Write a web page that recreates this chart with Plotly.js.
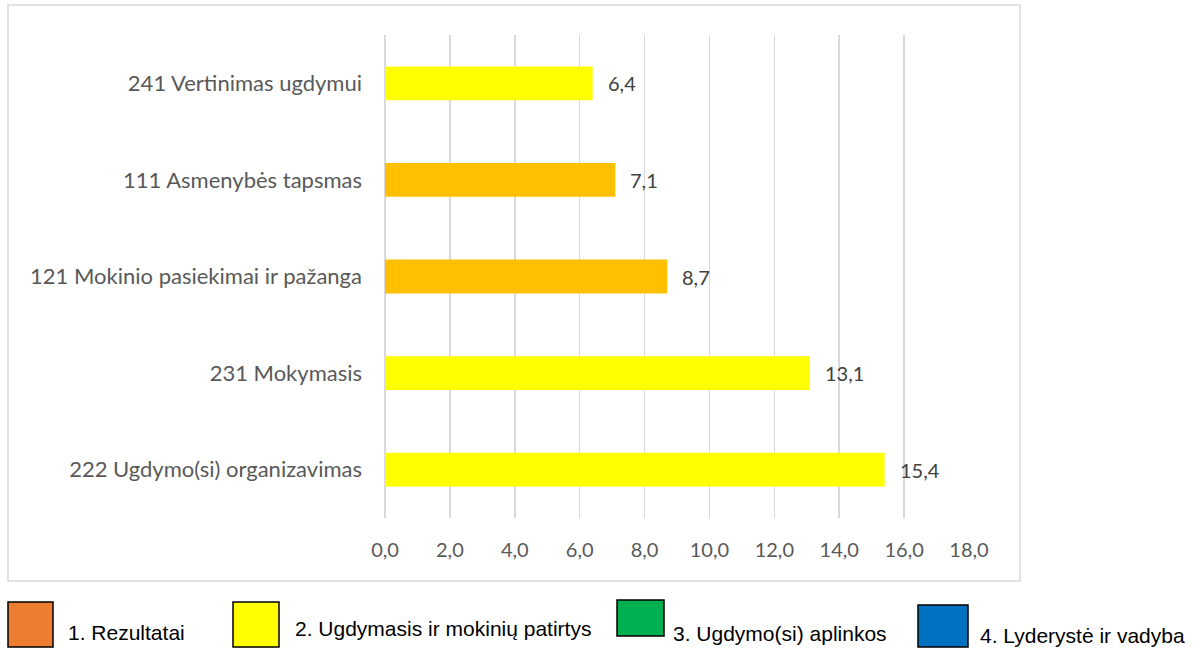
<!DOCTYPE html>
<html>
<head>
<meta charset="utf-8">
<script src="https://cdn.plot.ly/plotly-3.0.1.min.js"></script>
<style>html,body{margin:0;padding:0;background:#fff;}#chart{width:1203px;height:648px;}</style>
</head>
<body>
<div id="chart"></div>
<script>
// Data (bottom to top)
const categories = [
  "222 Ugdymo(si) organizavimas",
  "231 Mokymasis",
  "121 Mokinio pasiekimai ir pažanga",
  "111 Asmenybės tapsmas",
  "241 Vertinimas ugdymui"
];
const values = [15.4, 13.1, 8.7, 7.1, 6.4];
const barColors = ["#FFFF00", "#FFFF00", "#FFC000", "#FFC000", "#FFFF00"];
const xTickValues = [0, 2, 4, 6, 8, 10, 12, 14, 16, 18];
const legendLabels = ["1. Rezultatai", "2. Ugdymasis ir mokinių patirtys", "3. Ugdymo(si) aplinkos", "4. Lyderystė ir vadyba"];
const legendColors = ["#ED7D31", "#FFFF00", "#00B050", "#0070C0"];

// Layout geometry (pixels)
const W = 1203, H = 648;
const plotL = 385, plotR = 969, plotT = 35, plotB = 518;
const px2x = p => (p - plotL) / (plotR - plotL);
const py2y = p => (plotB - p) / (plotB - plotT);

const legendBoxes = [
  {x0: 8, x1: 53, y0: 602, y1: 647, tx: 66, ty: 632},
  {x0: 233, x1: 279, y0: 602, y1: 647, tx: 293, ty: 628},
  {x0: 617, x1: 664, y0: 600, y1: 636, tx: 671, ty: 633},
  {x0: 918, x1: 968, y0: 605, y1: 647, tx: 978, ty: 635}
];

const fmt = v => v.toFixed(1).replace(".", ",");

const trace = {
  type: "bar",
  orientation: "h",
  y: categories,
  x: values,
  marker: {color: barColors},
  width: 0.35,
  hoverinfo: "x+y",
  showlegend: false
};

const shapes = [{
  type: "rect", xref: "paper", yref: "paper",
  x0: px2x(8), x1: px2x(1020), y0: py2y(581), y1: py2y(5),
  line: {color: "#d9d9d9", width: 1.5}, fillcolor: "rgba(0,0,0,0)", layer: "below"
}];
const annotations = [];

values.forEach((v, i) => {
  annotations.push({
    x: v, y: categories[i], xref: "x", yref: "y",
    text: fmt(v), showarrow: false, xanchor: "left", xshift: 13,
    font: {family: "Lato, Calibri, sans-serif", size: 20, color: "#404040"}
  });
});

legendLabels.forEach((lab, i) => {
  const b = legendBoxes[i];
  shapes.push({
    type: "rect", xref: "paper", yref: "paper",
    x0: px2x(b.x0), x1: px2x(b.x1), y0: py2y(b.y1), y1: py2y(b.y0),
    fillcolor: legendColors[i], line: {color: "#000000", width: 1.5}
  });
  annotations.push({
    x: px2x(b.tx), y: py2y(b.ty), xref: "paper", yref: "paper",
    text: lab, showarrow: false, xanchor: "left", yanchor: "middle",
    font: {family: "Liberation Sans, Arial, sans-serif", size: 21, color: "#000000"}
  });
});

const layout = {
  width: W, height: H,
  margin: {l: plotL, r: W - plotR, t: plotT, b: H - plotB, pad: 0},
  paper_bgcolor: "#ffffff", plot_bgcolor: "#ffffff",
  showlegend: false,
  font: {family: "Lato, Calibri, sans-serif", size: 19, color: "#595959"},
  xaxis: {
    range: [0, 18], tickvals: xTickValues, ticktext: xTickValues.map(fmt),
    showgrid: true, gridcolor: "#d9d9d9", gridwidth: 1.5,
    zeroline: true, zerolinecolor: "#d9d9d9", zerolinewidth: 1.5,
    showline: false, ticks: "", ticklabelstandoff: 18,
    tickfont: {family: "Lato, Calibri, sans-serif", size: 20, color: "#595959"},
    fixedrange: true
  },
  yaxis: {
    type: "category", categoryorder: "array", categoryarray: categories,
    showgrid: false, zeroline: false, showline: false, ticks: "",
    ticklabelstandoff: 22,
    tickfont: {family: "Lato, Calibri, sans-serif", size: 22, color: "#595959"},
    fixedrange: true
  },
  shapes: shapes,
  annotations: annotations
};

Plotly.newPlot("chart", [trace], layout, {displayModeBar: false, staticPlot: true});
</script>
</body>
</html>
